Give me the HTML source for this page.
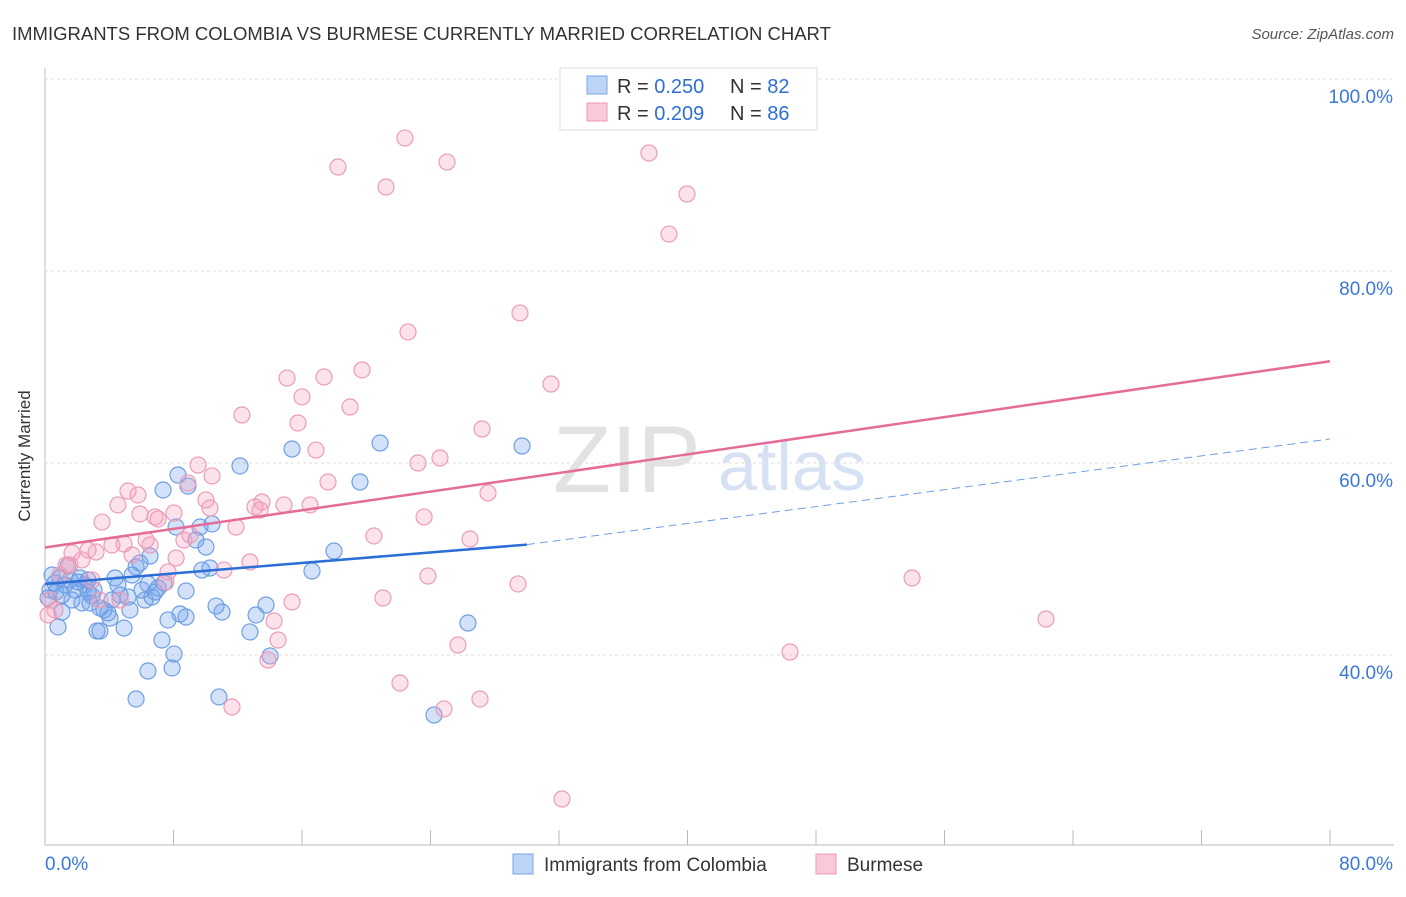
<!DOCTYPE html>
<html><head><meta charset="utf-8"><style>
body{margin:0;background:#fff;font-family:"Liberation Sans",sans-serif;}
svg text{font-family:"Liberation Sans",sans-serif;}
</style></head><body>
<svg width="1406" height="892">
<text x="12" y="40" font-size="18.5" fill="#333">IMMIGRANTS FROM COLOMBIA VS BURMESE CURRENTLY MARRIED CORRELATION CHART</text>
<text x="1394" y="39" font-size="15" fill="#555" text-anchor="end" font-style="italic">Source: ZipAtlas.com</text>
<text x="30" y="456" font-size="17" fill="#333" text-anchor="middle" transform="rotate(-90 30 456)">Currently Married</text>
<g id="grid"></g>
<text x="553" y="492" font-size="95" fill="#e2e2e2" font-family="Liberation Serif">ZIP</text>
<text x="718" y="490" font-size="70" fill="#d6e2f3">atlas</text>
<g id="pts"></g>
<g id="lines"></g>
<g>
<rect x="560" y="68" width="257" height="62" fill="#fff" stroke="#ddd"/>
<rect x="587" y="76" width="20" height="18" fill="#bcd4f5" stroke="#7aa6e6"/>
<text x="617" y="93" font-size="20" fill="#333">R = <tspan fill="#2e6fd6">0.250</tspan></text>
<text x="730" y="93" font-size="20" fill="#333">N = <tspan fill="#2e6fd6">82</tspan></text>
<rect x="587" y="103" width="20" height="18" fill="#f9c9d8" stroke="#ea9ab5"/>
<text x="617" y="120" font-size="20" fill="#333">R = <tspan fill="#2e6fd6">0.209</tspan></text>
<text x="730" y="120" font-size="20" fill="#333">N = <tspan fill="#2e6fd6">86</tspan></text>
</g>
<g>
<rect x="513" y="854" width="20" height="20" fill="#bcd4f5" stroke="#7aa6e6"/>
<text x="544" y="871" font-size="19" fill="#333">Immigrants from Colombia</text>
<rect x="816" y="854" width="20" height="20" fill="#f9c9d8" stroke="#ea9ab5"/>
<text x="847" y="871" font-size="19" fill="#333">Burmese</text>
</g>
</svg>
<script>
const yTicks=[40,60,80,100];
const xTickLabels=["0.0%","80.0%"];
const bluePx=[[55,583],[50,590],[60,578],[48,598],[62,612],[58,627],[70,580],[75,590],[68,566],[80,578],[85,585],[88,592],[92,596],[82,603],[97,631],[100,608],[104,610],[110,618],[108,613],[115,578],[118,585],[124,628],[128,597],[132,575],[136,567],[140,563],[145,600],[148,584],[150,556],[152,597],[158,588],[162,640],[148,671],[136,699],[163,490],[168,620],[172,668],[174,654],[180,614],[186,617],[176,527],[178,475],[188,486],[186,591],[196,540],[200,527],[202,570],[206,547],[212,524],[210,568],[216,606],[222,612],[219,697],[240,466],[250,632],[256,615],[266,605],[270,656],[292,449],[312,571],[334,551],[360,482],[380,443],[434,715],[468,623],[522,446],[100,631],[88,580],[72,600],[52,575],[65,585],[78,582],[94,590],[120,595],[130,610],[164,583],[56,592],[62,595],[90,603],[112,600],[155,592],[142,590]];
const pinkPx=[[405,138],[447,162],[338,167],[386,187],[649,153],[687,194],[669,234],[520,313],[408,332],[287,378],[324,377],[362,370],[551,384],[302,397],[350,407],[242,415],[298,423],[482,429],[316,450],[440,458],[418,463],[198,465],[188,483],[128,491],[138,495],[174,513],[212,476],[210,508],[118,505],[102,522],[155,517],[158,519],[184,540],[236,527],[262,502],[255,507],[284,505],[310,505],[328,482],[424,517],[488,493],[374,536],[470,539],[146,540],[150,545],[132,555],[112,545],[96,552],[88,550],[72,553],[66,565],[60,575],[50,600],[55,610],[48,615],[250,562],[166,582],[168,572],[224,570],[292,602],[274,621],[278,640],[268,660],[232,707],[383,598],[428,576],[518,584],[400,683],[444,709],[480,699],[458,645],[562,799],[790,652],[912,578],[1046,619],[190,535],[124,544],[70,565],[82,560],[100,600],[206,500],[176,558],[92,580],[120,600],[260,510],[140,514]];
const blueX=bluePx.map(p=>+((p[0]-45)/1285*80).toFixed(2));
const blueY=bluePx.map(p=>+(100-(p[1]-79)/9.6).toFixed(2));
const pinkX=pinkPx.map(p=>+((p[0]-45)/1285*80).toFixed(2));
const pinkY=pinkPx.map(p=>+(100-(p[1]-79)/9.6).toFixed(2));
const X=v=>45+v/80*1285, Y=v=>79+(100-v)*9.6;
const NS="http://www.w3.org/2000/svg";
const grid=document.getElementById('grid');
function mk(tag,a,parent){const e=document.createElementNS(NS,tag);for(const k in a)e.setAttribute(k,a[k]);parent.appendChild(e);return e;}
let ax=mk('line',{x1:45,y1:68,x2:45,y2:845,stroke:'#bbb'},grid);


let bx=mk('line',{x1:45,y1:845,x2:1394,y2:845,stroke:'#bbb'},grid);


yTicks.forEach(t=>{
 const l=mk('line',{x1:45,y1:Y(t),x2:1394,y2:Y(t),stroke:'#ddd','stroke-dasharray':'3,3'},grid);
 
 
 const tx=mk('text',{x:1393,y:Y(t)+24,'font-size':19,fill:'#3a78d8','text-anchor':'end'},grid);
 tx.textContent=t.toFixed(1)+'%';
 
 
});
for(let i=0;i<=10;i++){const l=mk('line',{x1:X(i*8),y1:830,x2:X(i*8),y2:845,stroke:'#bbb'},grid);
 
 }
const t0=mk('text',{x:45,y:870,'font-size':19,fill:'#3a78d8'},grid);t0.textContent=xTickLabels[0];


const t1=mk('text',{x:1393,y:870,'font-size':19,fill:'#3a78d8','text-anchor':'end'},grid);t1.textContent=xTickLabels[1];


const pts=document.getElementById('pts');
blueX.forEach((x,i)=>{const c=mk('circle',{cx:X(x),cy:Y(blueY[i]),r:8,fill:'rgba(110,160,235,0.3)',stroke:'#6e9fe2','stroke-width':1.2},pts);
 
 });
pinkX.forEach((x,i)=>{const c=mk('circle',{cx:X(x),cy:Y(pinkY[i]),r:8,fill:'rgba(245,160,190,0.3)',stroke:'#eb9cb8','stroke-width':1.2},pts);
 
 });
const lines=document.getElementById('lines');
const blueTrend=[[0,47.4],[30,51.5],[80,62.5]];
const pinkTrend=[[0,51.2],[80,70.6]];
let l1=mk('line',{x1:X(blueTrend[0][0]),y1:Y(blueTrend[0][1]),x2:X(blueTrend[1][0]),y2:Y(blueTrend[1][1]),stroke:'#2b6fd6','stroke-width':2.5},lines);


let l2=mk('line',{x1:X(blueTrend[1][0]),y1:Y(blueTrend[1][1]),x2:X(blueTrend[2][0]),y2:Y(blueTrend[2][1]),stroke:'#6e9fe2','stroke-width':1,'stroke-dasharray':'8,5'},lines);


let l3=mk('line',{x1:X(pinkTrend[0][0]),y1:Y(pinkTrend[0][1]),x2:X(pinkTrend[1][0]),y2:Y(pinkTrend[1][1]),stroke:'#e46c97','stroke-width':2.5},lines);


</script>
</body></html>
